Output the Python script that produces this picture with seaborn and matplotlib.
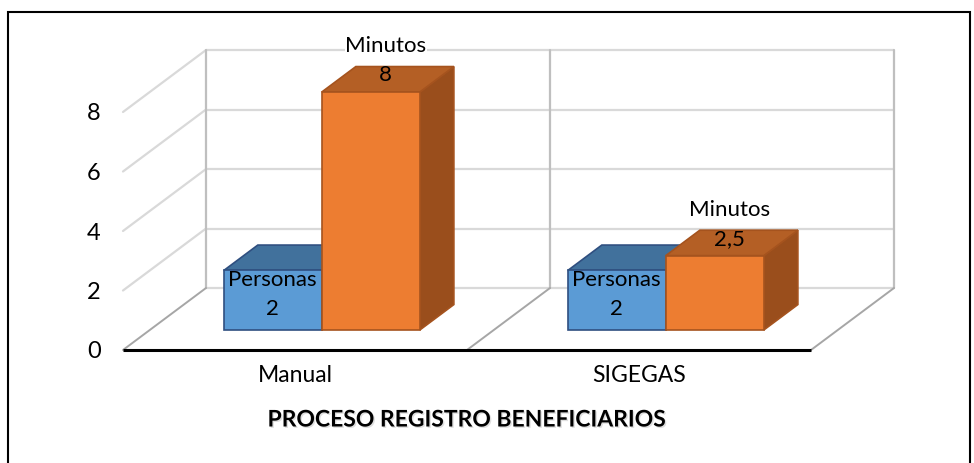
import numpy as np
import pandas as pd
import matplotlib
matplotlib.use("Agg")
import matplotlib.pyplot as plt
import matplotlib.patheffects as pe
from matplotlib.patches import Polygon, Rectangle
from matplotlib.transforms import Affine2D
import seaborn as sns

# ---- data ----
procesos = ["Manual", "SIGEGAS"]
series = ["Personas", "Minutos"]
personas = [2, 2]
minutos = [8, 2.5]
y_ticks = [0, 2, 4, 6, 8]
titulo = "PROCESO REGISTRO BENEFICIARIOS"

df = pd.DataFrame({
    "proceso": procesos * 2,
    "serie": [series[0]] * len(procesos) + [series[1]] * len(procesos),
    "valor": personas + minutos,
})

# ---- style ----
sns.set_theme(style="white")
plt.rcParams["font.family"] = ["Lato", "DejaVu Sans"]

front_cols = ["#5B9BD5", "#ED7D31"]
top_cols = ["#41719C", "#B45F25"]
side_cols = ["#2F5F8A", "#9A4E1C"]
edge_cols = ["#2F4F80", "#A5531E"]

# oblique depth: full depth of the floor in data units
DX, DY = 0.2413, 2.084
D_FRONT, D_BAR = 0.323, 0.41

W, H = 974, 463
fig = plt.figure(figsize=(W / 100, H / 100), dpi=100)
x0_px, unit_px, base_px, vunit_px = 295.0, 344.0, 350.0, 29.75
xlim = (-0.5, 1.78)
ylim = (0, 10.35)
left = (x0_px + xlim[0] * unit_px) / W
right = (x0_px + xlim[1] * unit_px) / W
bottom = (H - base_px) / H
top = (H - (base_px - ylim[1] * vunit_px)) / H
ax = fig.add_axes([left, bottom, right - left, top - bottom])

sns.barplot(data=df, x="proceso", y="valor", hue="serie", order=procesos,
            hue_order=series, palette=front_cols, width=0.57, gap=0,
            saturation=1, legend=False, ax=ax)

ax.set_xlim(*xlim)
ax.set_ylim(*ylim)
for s in ax.spines.values():
    s.set_visible(False)

# ---- walls and floor ----
grid_h = "#D9D9D9"
grid_v = "#BFBFBF"
lw_g = 1.6
bx0, bx1 = -0.5 + DX, 1.5 + DX
for v in y_ticks:
    ax.plot([bx0, bx1], [v + DY, v + DY], color=grid_h, lw=lw_g, zorder=1,
            clip_on=False, solid_capstyle="butt")
    if v > 0:
        ax.plot([-0.5, bx0], [v, v + DY], color=grid_h, lw=lw_g, zorder=1,
                clip_on=False)
for xb in [-0.5, 0.5, 1.5]:
    ax.plot([xb + DX, xb + DX], [DY, y_ticks[-1] + DY], color=grid_v,
            lw=lw_g, zorder=1, clip_on=False)
    ax.plot([xb, xb + DX], [0, DY], color="#A6A6A6", lw=1.4, zorder=1,
            clip_on=False)
ax.plot([-0.5, 1.5], [0, 0], color="black", lw=2.2, zorder=2, clip_on=False,
        solid_capstyle="butt")

# ---- 3D bar faces and value labels ----
shift = Affine2D().translate(D_FRONT * DX, D_FRONT * DY)
label_fs = 16
bars = list(ax.patches)
for i, bar in enumerate(bars):
    si = i // len(procesos)
    z = 3 + si
    bar.set_transform(shift + ax.transData)
    bar.set_edgecolor(edge_cols[si])
    bar.set_linewidth(1.2)
    bar.set_zorder(z + 0.5)
    x, w, h = bar.get_x(), bar.get_width(), bar.get_height()
    dx, dy = D_BAR * DX, D_BAR * DY
    top_face = Polygon([(x, h), (x + w, h), (x + w + dx, h + dy), (x + dx, h + dy)],
                       closed=True, facecolor=top_cols[si], edgecolor=edge_cols[si],
                       lw=1.2, zorder=z, transform=shift + ax.transData)
    side_face = Polygon([(x + w, 0), (x + w, h), (x + w + dx, h + dy), (x + w + dx, dy)],
                        closed=True, facecolor=side_cols[si], edgecolor=edge_cols[si],
                        lw=1.2, zorder=z, transform=shift + ax.transData)
    ax.add_patch(side_face)
    ax.add_patch(top_face)

    val_txt = f"{h:g}".replace(".", ",")
    if si == 0:
        # inside the front face, just below its top edge
        xy = (x + w / 2 + D_FRONT * DX, h + D_FRONT * DY)
        name_off, val_off = (0, -6.5), (0, -28)
        name_box = None
    else:
        # on the top face, series name above it
        xy = (x + w / 2 + (D_FRONT + D_BAR / 2) * DX,
              h + (D_FRONT + D_BAR / 2) * DY)
        name_off, val_off = (-1.5, 24), (-1.5, 3)
        name_box = dict(facecolor="white", edgecolor="none", pad=0.5)
    ax.annotate(series[si], xy=xy, xytext=name_off, textcoords="offset points",
                ha="center", va="center", fontsize=label_fs, color="black",
                zorder=10, bbox=name_box)
    ax.annotate(val_txt, xy=xy, xytext=val_off, textcoords="offset points",
                ha="center", va="center", fontsize=label_fs, color="black",
                zorder=10)

# ---- axes labels ----
ax.set_yticks(y_ticks)
ax.set_yticklabels([str(v) for v in y_ticks])
ax.tick_params(axis="y", length=0, pad=16, labelsize=17, labelcolor="black")
ax.tick_params(axis="x", length=0, pad=11, labelsize=16.5, labelcolor="black")
ax.set_ylabel("")
ax.set_xlabel(titulo, fontsize=16.5, fontweight="bold", color="black",
              path_effects=[pe.withSimplePatchShadow(offset=(1, -1), alpha=0.25,
                                                     shadow_rgbFace="#808080")])
ax.xaxis.set_label_coords((0.5 - xlim[0]) / (xlim[1] - xlim[0]) + 0.0,
                          ((H - 420) / H - bottom) / (top - bottom))
ax.xaxis.label.set_va("center")

# ---- outer frame ----
fig.patches.append(Rectangle((8 / W, -0.05), (970 - 8) / W, (H - 12) / H + 0.05,
                             transform=fig.transFigure, fill=False,
                             edgecolor="black", lw=1.5, zorder=0))

fig.savefig("out.png", dpi=100, facecolor="white")
